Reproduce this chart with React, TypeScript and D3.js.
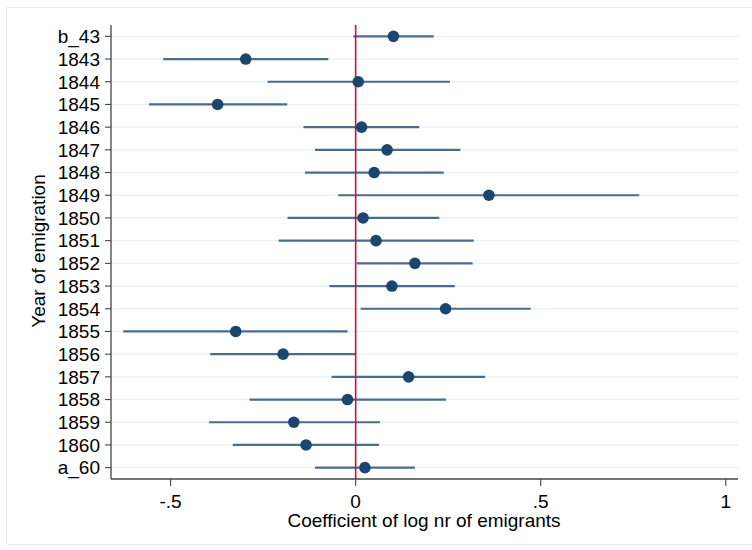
import React from "react";
import * as d3 from "d3";

const categories = ["b_43","1843","1844","1845","1846","1847","1848","1849","1850","1851","1852","1853","1854","1855","1856","1857","1858","1859","1860","a_60"];
const coef = [0.102,-0.297,0.007,-0.373,0.016,0.085,0.050,0.360,0.020,0.055,0.160,0.098,0.243,-0.324,-0.196,0.143,-0.022,-0.167,-0.134,0.025];
const ciLow = [-0.006,-0.520,-0.238,-0.558,-0.141,-0.110,-0.137,-0.047,-0.184,-0.208,0.003,-0.071,0.0135,-0.628,-0.393,-0.065,-0.287,-0.396,-0.332,-0.110];
const ciHigh = [0.211,-0.074,0.255,-0.185,0.172,0.283,0.238,0.766,0.226,0.319,0.316,0.268,0.473,-0.022,0.0,0.350,0.244,0.066,0.063,0.160];
const xTicks = [-0.5, 0, 0.5, 1];
const xTickLabels = ["-.5", "0", ".5", "1"];

const W = 752, H = 550;
const left = 111, right = 738, top = 25, bottom = 479;
const font = "'Liberation Sans', Arial, sans-serif";
const fs = 19;

export default function App() {
  const x = d3.scaleLinear().domain([-0.661, 1.033]).range([left, right]);
  const y = d3.scalePoint<string>().domain(categories).range([top, bottom]).padding(0.5);
  return (
    <svg width={W} height={H} style={{ position: "absolute", left: 0, top: 0, background: "#fff" }} fontFamily={font}>
      <rect x={0} y={0} width={W} height={H} fill="#fff" />
      <path d={`M${W + 5},7.5 H6.5 V544.5 H${W + 5}`} fill="none" stroke="#ececec" strokeWidth={1} />
      {categories.map((c) => (
        <line key={"g" + c} x1={left} x2={right} y1={y(c)} y2={y(c)} stroke="#eaf2f3" strokeWidth={1.4} />
      ))}
      {categories.map((c, i) => (
        <line key={"ci" + c} x1={x(ciLow[i])} x2={x(ciHigh[i])} y1={y(c)} y2={y(c)} stroke="#4a6c8e" strokeWidth={2.2} />
      ))}
      <line x1={x(0)} x2={x(0)} y1={top} y2={bottom} stroke="#d0103a" strokeWidth={1.6} />
      {categories.map((c, i) => (
        <circle key={"p" + c} cx={x(coef[i])} cy={y(c)} r={5.8} fill="#1a476f" />
      ))}
      <line x1={left} x2={left} y1={top} y2={bottom} stroke="#444" strokeWidth={1.3} />
      <line x1={left} x2={right} y1={bottom} y2={bottom} stroke="#444" strokeWidth={1.3} />
      {categories.map((c) => (
        <g key={"yt" + c}>
          <line x1={left - 6} x2={left} y1={y(c)} y2={y(c)} stroke="#444" strokeWidth={1.1} />
          <text x={100} y={y(c)} dy="0.36em" textAnchor="end" fontSize={fs} fill="#000">{c}</text>
        </g>
      ))}
      {xTicks.map((t, i) => (
        <g key={"xt" + t}>
          <line x1={x(t)} x2={x(t)} y1={bottom} y2={bottom + 7} stroke="#444" strokeWidth={1.1} />
          <text x={x(t)} y={508} textAnchor="middle" fontSize={fs} fill="#000">{xTickLabels[i]}</text>
        </g>
      ))}
      <text x={424} y={527} textAnchor="middle" fontSize={fs} fill="#000">Coefficient of log nr of emigrants</text>
      <text transform={`translate(45,251) rotate(-90)`} textAnchor="middle" fontSize={fs} fill="#000">Year of emigration</text>
    </svg>
  );
}
